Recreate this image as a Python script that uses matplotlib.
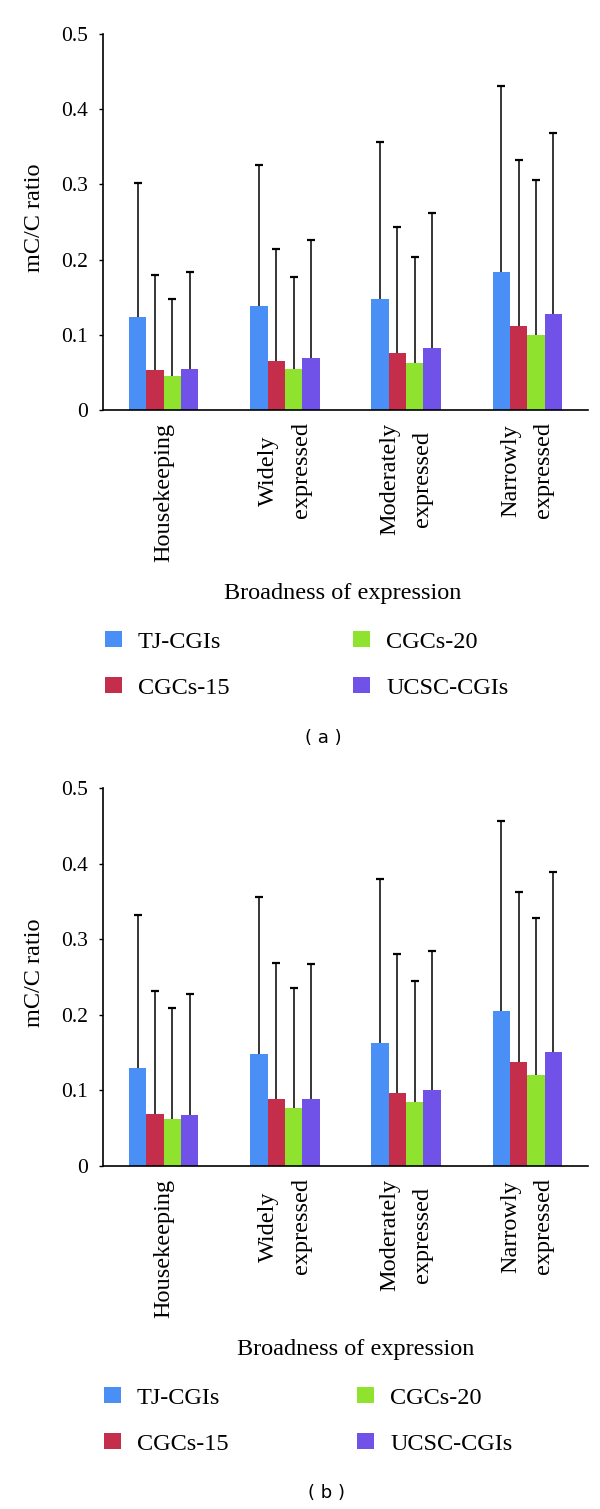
import numpy as np
import matplotlib
matplotlib.use('Agg')
import matplotlib.pyplot as plt

plt.rcParams['font.family'] = ['Liberation Serif', 'DejaVu Serif']

# データ
categories = ['Housekeeping', 'Widely\nexpressed', 'Moderately\nexpressed', 'Narrowly\nexpressed']
series = ['TJ-CGIs', 'CGCs-15', 'CGCs-20', 'UCSC-CGIs']
colors = ['#4a8ff5', '#c42e4a', '#8fe32e', '#7052e8']
yticks = [0, 0.1, 0.2, 0.3, 0.4, 0.5]
ytick_labels = ['0', '0.1', '0.2', '0.3', '0.4', '0.5']

# (a) 平均値と標準偏差
tj_a = [0.124, 0.138, 0.148, 0.183]
c15_a = [0.053, 0.065, 0.076, 0.112]
c20_a = [0.045, 0.055, 0.063, 0.100]
ucsc_a = [0.055, 0.069, 0.083, 0.128]
tj_a_sd = [0.178, 0.188, 0.208, 0.248]
c15_a_sd = [0.126, 0.149, 0.168, 0.221]
c20_a_sd = [0.102, 0.122, 0.141, 0.206]
ucsc_a_sd = [0.129, 0.157, 0.179, 0.240]

# (b) 平均値と標準偏差
tj_b = [0.129, 0.148, 0.163, 0.205]
c15_b = [0.069, 0.088, 0.096, 0.137]
c20_b = [0.062, 0.077, 0.084, 0.121]
ucsc_b = [0.067, 0.089, 0.100, 0.151]
tj_b_sd = [0.203, 0.208, 0.217, 0.252]
c15_b_sd = [0.163, 0.181, 0.184, 0.226]
c20_b_sd = [0.147, 0.159, 0.161, 0.207]
ucsc_b_sd = [0.160, 0.178, 0.185, 0.238]

W, H = 600, 1509
fig = plt.figure(figsize=(W / 100, H / 100), dpi=100)


def fy(y):
    return 1 - y / H


def draw_panel(ax, means, sds):
    x = np.arange(len(categories))
    bw = 0.143
    for i, (m, s) in enumerate(zip(means, sds)):
        xs = x + (i - 1.5) * bw
        ax.bar(xs, m, width=bw, color=colors[i], label=series[i], zorder=2)
        eb = ax.errorbar(xs, m, yerr=[np.zeros(len(m)), s], fmt='none',
                         ecolor='black', elinewidth=1.1, capsize=2.8,
                         capthick=1.6, zorder=3)
        # 下側のキャップは不要
        eb[1][0].set_visible(False)
    ax.set_xlim(-0.5, 3.5)
    ax.set_ylim(0, 0.5)
    ax.set_yticks(yticks)
    ax.set_yticklabels(ytick_labels, fontsize=15.5)
    ax.set_xticks(x)
    ax.set_xticklabels(categories, rotation=90, fontsize=17.5, va='top',
                       ha='center', multialignment='center', linespacing=1.75)
    ax.tick_params(axis='x', length=0, pad=9)
    ax.tick_params(axis='y', length=3, width=1, pad=8, direction='out')
    for sp in ['top', 'right']:
        ax.spines[sp].set_visible(False)
    for sp in ['left', 'bottom']:
        ax.spines[sp].set_linewidth(1.2)
    ax.set_ylabel('mC/C ratio', fontsize=17.5)
    ax.yaxis.set_label_coords(-0.12, 0.51)


# グラフ(a)
ax_a = fig.add_axes([103 / W, fy(410), 485 / W, (410 - 34) / H])
draw_panel(ax_a, [tj_a, c15_a, c20_a, ucsc_a], [tj_a_sd, c15_a_sd, c20_a_sd, ucsc_a_sd])
fig.text(343 / W, fy(593), 'Broadness of expression', fontsize=17.5, ha='center', va='center')
ax_a.legend(ncol=2, loc='center left', bbox_to_anchor=(105 / W, fy(665)),
            bbox_transform=fig.transFigure, frameon=False, fontsize=17.5,
            handlelength=0.7, handleheight=0.65, handletextpad=0.65,
            columnspacing=5.1, labelspacing=1.0, borderpad=0, borderaxespad=0)
fig.text(323 / W, fy(738), '( a )', fontsize=13, family='DejaVu Sans', ha='center', va='center')

# グラフ(b)
ax_b = fig.add_axes([103 / W, fy(1166), 485 / W, (1166 - 788) / H])
draw_panel(ax_b, [tj_b, c15_b, c20_b, ucsc_b], [tj_b_sd, c15_b_sd, c20_b_sd, ucsc_b_sd])
fig.text(356 / W, fy(1349), 'Broadness of expression', fontsize=17.5, ha='center', va='center')
ax_b.legend(ncol=2, loc='center left', bbox_to_anchor=(104 / W, fy(1421)),
            bbox_transform=fig.transFigure, frameon=False, fontsize=17.5,
            handlelength=0.7, handleheight=0.65, handletextpad=0.65,
            columnspacing=5.3, labelspacing=1.0, borderpad=0, borderaxespad=0)
fig.text(327 / W, fy(1493), '( b )', fontsize=13, family='DejaVu Sans', ha='center', va='center')

plt.savefig('out.png', dpi=100)
